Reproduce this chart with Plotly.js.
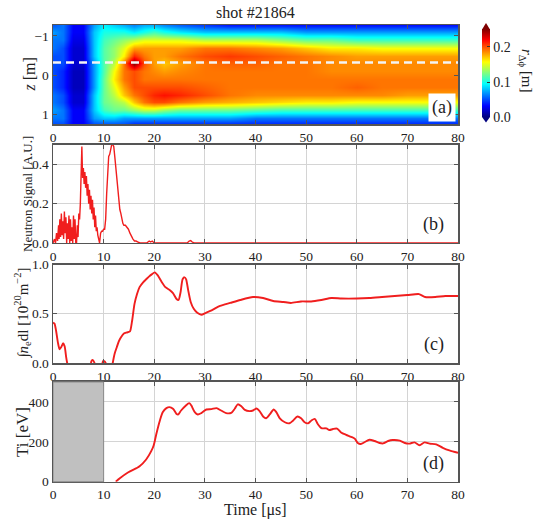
<!DOCTYPE html>
<html>
<head>
<meta charset="utf-8">
<script src="https://cdn.plot.ly/plotly-3.0.1.min.js"></script>
<style>html,body{margin:0;padding:0;background:#fff;}#chart{width:543px;height:520px;}</style>
</head>
<body>
<div id="chart"></div>
<script>
// ---------- Panel (a): r_dphi map ----------
const hmTime = [0, 2, 4, 6, 8, 10, 12, 14, 16, 18, 20, 22, 25, 30, 35, 40, 45, 50, 55, 60, 65, 70, 75, 80];
const hmZ = [-1.3, -1.1, -0.9, -0.7, -0.5, -0.3, -0.1, 0.1, 0.3, 0.5, 0.7, 0.9, 1.1, 1.25];
const hmValues = [
  [.05,.06,.03,.03,.07,.09,.08,.07,.06,.07,.07,.06,.05,.04,.03,.03,.03,.03,.03,.03,.03,.03,.03,.03],
  [.07,.06,.03,.03,.08,.10,.10,.10,.09,.10,.11,.10,.09,.08,.08,.08,.08,.07,.07,.07,.07,.07,.07,.07],
  [.06,.06,.025,.025,.08,.11,.12,.13,.14,.15,.15,.15,.15,.14,.14,.14,.13,.12,.12,.11,.11,.11,.11,.11],
  [.06,.05,.02,.02,.08,.115,.13,.15,.18,.18,.18,.18,.18,.19,.19,.185,.18,.17,.16,.16,.155,.155,.155,.155],
  [.05,.05,.02,.02,.08,.115,.13,.16,.21,.19,.18,.18,.19,.20,.205,.20,.195,.19,.185,.18,.18,.18,.18,.18],
  [.05,.05,.02,.02,.07,.115,.14,.19,.25,.20,.18,.17,.18,.19,.195,.195,.19,.19,.185,.185,.185,.185,.185,.185],
  [.05,.04,.015,.015,.07,.115,.155,.19,.20,.19,.185,.18,.185,.19,.19,.19,.19,.19,.185,.185,.185,.185,.185,.185],
  [.05,.04,.015,.015,.07,.12,.16,.19,.20,.19,.19,.19,.19,.19,.19,.19,.19,.19,.19,.19,.19,.19,.19,.19],
  [.05,.04,.015,.015,.07,.12,.15,.18,.20,.20,.20,.20,.20,.195,.19,.19,.19,.19,.19,.195,.19,.19,.19,.19],
  [.06,.05,.02,.02,.08,.12,.14,.17,.19,.20,.21,.215,.21,.20,.19,.185,.185,.185,.185,.185,.185,.18,.18,.18],
  [.06,.05,.02,.02,.08,.12,.13,.14,.17,.19,.20,.20,.19,.18,.175,.17,.165,.16,.16,.155,.155,.155,.155,.155],
  [.07,.06,.03,.03,.08,.11,.12,.12,.13,.14,.14,.13,.12,.12,.12,.115,.11,.11,.11,.11,.11,.11,.11,.11],
  [.06,.06,.03,.03,.07,.08,.08,.07,.07,.07,.07,.07,.07,.07,.07,.06,.06,.06,.06,.06,.06,.06,.06,.06],
  [.05,.05,.03,.03,.05,.05,.05,.05,.04,.04,.04,.04,.04,.04,.04,.04,.04,.04,.04,.04,.04,.04,.04,.04]
];
const dashTime = [0, 80];
const dashZ = [-0.32, -0.32];
const zTickVals = [-1, 0, 1];
const cbTickVals = [0, 0.1, 0.2];
const cbTickText = ["0.0", "0.1", "0.2"];

// ---------- Panel (b): neutron signal ----------
const neutronTime = [0,0.3,0.5,0.7,0.9,1.1,1.2,1.35,1.5,1.65,1.8,1.95,2.1,2.25,2.4,2.55,2.7,2.85,3.0,3.15,3.3,3.45,3.6,3.75,3.9,4.05,4.2,4.35,4.5,4.65,4.8,4.95,5.1,5.25,5.4,5.55,5.7,5.85,6.0,6.15,6.3,6.45,6.6,6.75,6.9,7.05,7.2,7.35,7.5,7.65,7.8,7.95,8.1,8.25,8.4,8.55,8.7,8.85,9.0,9.2,9.4,9.6,9.8,10.0,10.2,10.4,10.6,10.8,11.0,11.2,11.4,11.6,11.8,12.0,12.2,12.4,12.6,12.8,13.0,13.2,13.4,13.6,13.8,14.0,14.3,14.6,14.9,15.2,15.5,15.8,16.1,16.4,16.8,17.2,17.6,18.5,19.0,19.3,19.6,20.0,20.5,26.5,26.9,27.2,27.5,27.9,80];
const neutronSignal = [0.0,0.02,0.0,0.05,0.01,0.09,0.02,0.12,0.03,0.15,0.04,0.11,0.02,0.16,0.05,0.13,0.0,0.10,0.02,0.14,0.0,0.12,0.01,0.08,0.0,0.14,0.02,0.12,0.0,0.0,0.09,0.03,0.15,0.12,0.20,0.30,0.49,0.33,0.38,0.30,0.36,0.28,0.34,0.24,0.30,0.20,0.27,0.17,0.24,0.15,0.22,0.12,0.18,0.08,0.14,0.06,0.08,0.04,0.02,0.0,0.05,0.06,0.06,0.07,0.07,0.12,0.25,0.38,0.44,0.45,0.47,0.50,0.50,0.49,0.44,0.38,0.32,0.26,0.21,0.17,0.15,0.12,0.10,0.09,0.09,0.08,0.07,0.05,0.03,0.02,0.01,0.01,0.005,0.0,0.0,0.0,0.01,0.005,0.01,0.0,0.0,0.0,0.01,0.012,0.005,0.0,0.0];
const neutronTicks = [0, 0.2, 0.4];
const neutronTickText = ["0.0", "0.2", "0.4"];

// ---------- Panel (c): line-integrated density ----------
const densTime = [0,0.3,0.6,1.0,1.3,1.6,2.0,2.3,2.6,2.8,3.2,5,7.3,7.6,7.9,8.2,8.5,9.6,9.9,10.1,10.4,10.8,11.5,11.8,12.2,12.6,13.0,13.4,14.0,14.6,15.2,15.6,16.1,16.6,17.1,17.8,18.4,19.0,19.5,20.1,20.7,21.5,22.2,23.1,23.7,24.4,24.8,25.2,25.6,26.0,26.3,26.7,27.2,27.8,28.5,29.3,30.2,31.5,33.0,35.0,37.0,39.5,41.5,43.5,45.5,47.0,49.0,51.0,53.0,55.0,57.0,60.0,62.5,65.0,67.5,70.0,72.3,73.5,75.5,77.5,80];
const densValue = [0.41,0.40,0.33,0.20,0.14,0.16,0.20,0.17,0.06,0.0,-0.1,-0.2,-0.05,0.02,0.03,0.0,-0.05,-0.03,0.02,0.02,0.0,-0.1,-0.1,0.0,0.10,0.16,0.22,0.26,0.30,0.31,0.32,0.42,0.60,0.70,0.77,0.82,0.85,0.88,0.90,0.92,0.89,0.82,0.77,0.74,0.71,0.65,0.64,0.72,0.85,0.87,0.85,0.74,0.62,0.55,0.51,0.49,0.51,0.54,0.58,0.61,0.64,0.67,0.66,0.63,0.62,0.61,0.625,0.625,0.64,0.66,0.655,0.655,0.66,0.67,0.68,0.69,0.70,0.67,0.67,0.68,0.68];
const densTicks = [0, 0.5, 1.0];
const densTickText = ["0.0", "0.5", "1.0"];

// ---------- Panel (d): ion temperature ----------
const tiTime = [12.4,13.2,14.8,16.5,17.1,18.4,19.4,19.9,20.4,21.1,21.7,22.4,23.0,23.7,24.4,24.7,25.3,26.2,26.9,27.3,28.0,28.6,29.3,30.3,31.3,32.3,33.2,34.2,35.2,35.9,36.5,37.2,37.9,38.8,39.5,40.2,40.8,41.5,42.1,42.8,43.6,44.1,44.8,45.8,46.7,47.4,48.3,49.0,49.7,50.4,51.0,51.7,52.3,53.0,54.0,54.6,55.3,56.1,56.9,57.9,58.9,59.6,60.2,60.8,61.6,62.5,63.5,64.5,65.2,66.2,67.1,68.5,69.5,70.4,71.4,72.4,73.4,74.4,75.7,77.0,78.3,80.0];
const tiValue = [0,17,46,68,77,111,153,183,238,306,349,369,374,366,340,337,357,381,394,383,349,337,344,362,364,369,357,344,345,366,388,378,360,354,357,367,354,327,318,337,362,349,318,298,293,306,327,318,298,293,306,315,289,269,267,259,264,266,247,235,225,216,194,189,199,210,204,194,192,204,209,206,194,191,197,183,197,191,187,170,157,145];
const tiTicks = [0, 200, 400];
const shadedTime = [0, 10];

const timeTicks = [0, 10, 20, 30, 40, 50, 60, 70, 80];

// ---------- styling ----------
const FONT = "Liberation Serif";
const RED = "#f01e1e";
const FRAME = "#555555";
const GRID = "#d4d4d4";
const jet = [[0,"#00007f"],[0.125,"#0000ff"],[0.375,"#00ffff"],[0.625,"#ffff00"],[0.875,"#ff0000"],[1,"#7f0000"]];

const doms = {
  a: [0.7615, 0.9519],
  b: [0.5327, 0.7221],
  c: [0.3019, 0.4913],
  d: [0.0737, 0.2654]
};

function xax(anchor, grid) {
  return {domain:[0,1], anchor:anchor, range:[0,80], tickvals:timeTicks, ticktext:timeTicks.map(String),
    showgrid:grid, gridcolor:GRID, gridwidth:1, zeroline:false, showline:true, linecolor:FRAME, linewidth:1.5,
    mirror:"ticks", ticks:"inside", ticklen:4, tickcolor:FRAME, tickfont:{family:FONT,size:13.5,color:"#222"}};
}
function yax(anchor, dom, range, tv, tt, grid) {
  const o = {domain:dom, anchor:anchor, range:range, tickvals:tv, showgrid:grid, gridcolor:GRID, gridwidth:1,
    zeroline:false, showline:true, linecolor:FRAME, linewidth:1.5, mirror:"ticks", ticks:"inside", ticklen:4,
    tickcolor:FRAME, tickfont:{family:FONT,size:13.5,color:"#222"}};
  if (tt) o.ticktext = tt;
  return o;
}

const traces = [
  {type:"heatmap", x:hmTime, y:hmZ, z:hmValues, zmin:0, zmax:0.25, zsmooth:"best", colorscale:jet,
   xaxis:"x", yaxis:"y", hoverinfo:"skip",
   colorbar:{x:1.0593, xanchor:"left", xpad:0, ypad:0, y:0.8591, yanchor:"middle", len:87.5, lenmode:"pixels",
     thickness:8, thicknessmode:"pixels", outlinewidth:0, tickvals:cbTickVals, ticktext:cbTickText,
     ticks:"inside", ticklen:3, tickcolor:"#333", tickfont:{family:FONT,size:14,color:"#222"}}},
  {type:"scatter", mode:"lines", x:dashTime, y:dashZ, xaxis:"x", yaxis:"y",
   line:{color:"#f4f4f4", width:2.5, dash:"8px,5px"}, hoverinfo:"skip", showlegend:false},
  {type:"scatter", mode:"lines", x:neutronTime, y:neutronSignal, xaxis:"x2", yaxis:"y2",
   line:{color:RED, width:1.4}, showlegend:false},
  {type:"scatter", mode:"lines", x:densTime, y:densValue, xaxis:"x3", yaxis:"y3",
   line:{color:RED, width:1.9, shape:"spline", smoothing:0.6}, showlegend:false},
  {type:"scatter", mode:"lines", x:tiTime, y:tiValue, xaxis:"x4", yaxis:"y4",
   line:{color:RED, width:1.9, shape:"spline", smoothing:0.8}, showlegend:false}
];

function px2x(p){ return (p-53)/405; }
function py(p){ return 1 - p/520; }

const layout = {
  width:543, height:520, margin:{l:53, r:85, t:0, b:0}, paper_bgcolor:"#fff", plot_bgcolor:"#fff",
  showlegend:false, font:{family:FONT, color:"#222"},
  xaxis: xax("y", false),
  yaxis: yax("x", doms.a, [1.25, -1.28], zTickVals, null, false),
  xaxis2: xax("y2", true),
  yaxis2: yax("x2", doms.b, [0, 0.5], neutronTicks, neutronTickText, true),
  xaxis3: xax("y3", true),
  yaxis3: yax("x3", doms.c, [0, 1], densTicks, densTickText, true),
  xaxis4: xax("y4", true),
  yaxis4: yax("x4", doms.d, [0, 500], tiTicks, null, true),
  shapes: [
    {type:"rect", xref:"x4", yref:"y4 domain", x0:shadedTime[0], x1:shadedTime[1], y0:0, y1:1,
     fillcolor:"#c0c0c0", line:{color:"#8a8a8a", width:1}, layer:"above"},
    {type:"path", xref:"paper", yref:"paper",
     path:"M "+px2x(482)+" "+py(29.5)+" L "+px2x(490)+" "+py(29.5)+" L "+px2x(486)+" "+py(23)+" Z",
     fillcolor:"#7f0000", line:{width:0}},
    {type:"path", xref:"paper", yref:"paper",
     path:"M "+px2x(482)+" "+py(117)+" L "+px2x(490)+" "+py(117)+" L "+px2x(486)+" "+py(122.5)+" Z",
     fillcolor:"#00007f", line:{width:0}}
  ],
  annotations: [
    {text:"shot #21864", xref:"paper", yref:"paper", x:0.5, y:py(12), xanchor:"center", yanchor:"middle",
     showarrow:false, font:{family:FONT, size:16, color:"#222"}},
    {text:"<i>r</i><sub>Δϕ</sub> [m]", xref:"paper", yref:"paper", x:px2x(526), y:py(71), textangle:90,
     xanchor:"center", yanchor:"middle", showarrow:false, font:{family:FONT, size:15, color:"#222"}},
    {text:"<i>z</i> [m]", xref:"paper", yref:"paper", x:px2x(29), y:py(74.5), textangle:-90,
     xanchor:"center", yanchor:"middle", showarrow:false, font:{family:FONT, size:16, color:"#222"}},
    {text:"Neutron Signal [A.U.]", xref:"paper", yref:"paper", x:px2x(27), y:py(194), textangle:-90,
     xanchor:"center", yanchor:"middle", showarrow:false, font:{family:FONT, size:13, color:"#222"}},
    {text:"∫<i>n</i><sub>e</sub>dl [10<sup>20</sup>m<sup>−2</sup>]", xref:"paper", yref:"paper", x:px2x(22), y:py(313.5), textangle:-90,
     xanchor:"center", yanchor:"middle", showarrow:false, font:{family:FONT, size:15, color:"#222"}},
    {text:"Ti [eV]", xref:"paper", yref:"paper", x:px2x(22), y:py(432), textangle:-90,
     xanchor:"center", yanchor:"middle", showarrow:false, font:{family:FONT, size:17, color:"#222"}},
    {text:"Time [μs]", xref:"paper", yref:"paper", x:0.5, y:py(510), xanchor:"center", yanchor:"middle",
     showarrow:false, font:{family:FONT, size:16, color:"#222"}},
    {text:"(a)", xref:"x domain", yref:"y domain", x:0.995, y:0.02, xanchor:"right", yanchor:"bottom",
     showarrow:false, bgcolor:"#ffffff", borderpad:3, font:{family:FONT, size:18, color:"#222"}},
    {text:"(b)", xref:"x2 domain", yref:"y2 domain", x:0.97, y:0.06, xanchor:"right", yanchor:"bottom",
     showarrow:false, font:{family:FONT, size:18, color:"#222"}},
    {text:"(c)", xref:"x3 domain", yref:"y3 domain", x:0.97, y:0.06, xanchor:"right", yanchor:"bottom",
     showarrow:false, font:{family:FONT, size:18, color:"#222"}},
    {text:"(d)", xref:"x4 domain", yref:"y4 domain", x:0.97, y:0.06, xanchor:"right", yanchor:"bottom",
     showarrow:false, font:{family:FONT, size:18, color:"#222"}}
  ]
};

Plotly.newPlot("chart", traces, layout, {staticPlot:true, displayModeBar:false});
</script>
</body>
</html>
